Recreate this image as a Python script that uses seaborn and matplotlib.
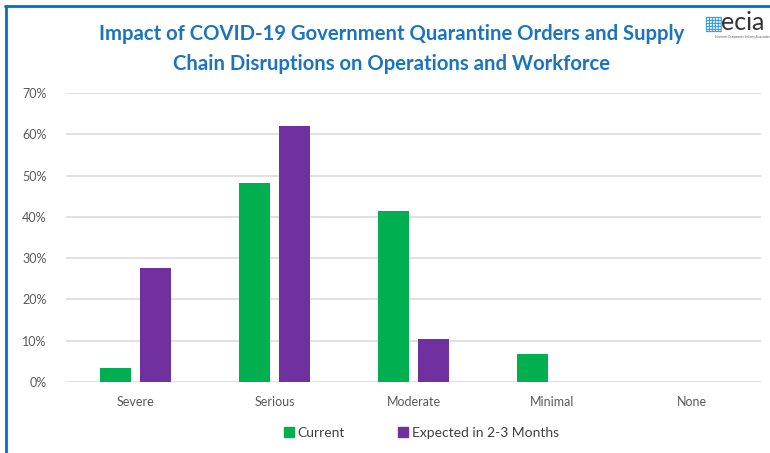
import numpy as np
import pandas as pd
import matplotlib.pyplot as plt
import seaborn as sns
from matplotlib.lines import Line2D
from matplotlib.ticker import PercentFormatter

# ------------------------------------------------------------------
# data (share of respondents)
# ------------------------------------------------------------------
categories = ["Severe", "Serious", "Moderate", "Minimal", "None"]
current = [0.034, 0.483, 0.414, 0.069, 0.0]
expected = [0.276, 0.621, 0.103, 0.0, 0.0]
series = ["Current", "Expected in 2-3 Months"]
colors = ["#00B050", "#7030A0"]

df = pd.DataFrame({
    "Impact": categories * 2,
    "Share": current + expected,
    "Series": [series[0]] * len(categories) + [series[1]] * len(categories),
})

# ------------------------------------------------------------------
# figure
# ------------------------------------------------------------------
sns.set_style("white")
plt.rcParams["font.family"] = ["Lato", "DejaVu Sans"]

fig = plt.figure(figsize=(7.7, 4.53), dpi=100)
ax = fig.add_axes([66 / 770, 71 / 453, 695 / 770, 289 / 453])

sns.barplot(
    data=df, x="Impact", y="Share", hue="Series",
    order=categories, hue_order=series, palette=colors, saturation=1,
    width=0.576, gap=0.226, linewidth=0, legend=False, ax=ax,
)

ax.set_ylim(0, 0.70)
ax.set_yticks(np.arange(0, 0.71, 0.10))
ax.yaxis.set_major_formatter(PercentFormatter(1.0, decimals=0))
ax.set_xlim(-0.5, len(categories) - 0.5)
ax.grid(axis="y", color="#D9D9D9", linewidth=1.1)
ax.set_axisbelow(True)
for s in ax.spines.values():
    s.set_visible(False)
ax.set_xlabel("")
ax.set_ylabel("")
ax.tick_params(axis="both", length=0, labelsize=9, labelcolor="#595959")
ax.tick_params(axis="x", pad=10)
ax.tick_params(axis="y", pad=14)

# title
fig.text(392 / 770, 1 - 49 / 453,
         "Impact of COVID-19 Government Quarantine Orders and Supply\n"
         "Chain Disruptions on Operations and Workforce",
         ha="center", va="center", fontsize=14.6, fontweight="bold",
         color="#1A74C0", linespacing=1.65)

# logo
fig.text(713 / 770, 1 - 24 / 453, "\u25A6", ha="center", va="center",
         fontsize=15, color="#3AA0E0", family="DejaVu Sans")
fig.text(721 / 770, 1 - 23 / 453, "ecia", ha="left", va="center",
         fontsize=18, color="#333333")
fig.text(742 / 770, 1 - 37 / 453, "Electronic Components Industry Association",
         ha="center", va="center", fontsize=2, color="#555555")

# legend
handles = [Line2D([], [], marker="s", linestyle="none", markersize=7,
                  markerfacecolor=c, markeredgecolor=c) for c in colors]
fig.legend(handles, series, loc="center", bbox_to_anchor=(420 / 770, 1 - 433 / 453),
           ncol=2, frameon=False, fontsize=10, handletextpad=0.0,
           handlelength=1.2, columnspacing=3.6, labelcolor="#404040")

# blue frame of the screenshot (top and left edges)
fig.add_artist(Line2D([5 / 770, 1], [1 - 6 / 453, 1 - 6 / 453],
                      color="#0070C0", linewidth=2, transform=fig.transFigure))
fig.add_artist(Line2D([6 / 770, 6 / 770], [0, 1 - 6 / 453],
                      color="#0070C0", linewidth=2, transform=fig.transFigure))

fig.savefig("out.png", dpi=100)
